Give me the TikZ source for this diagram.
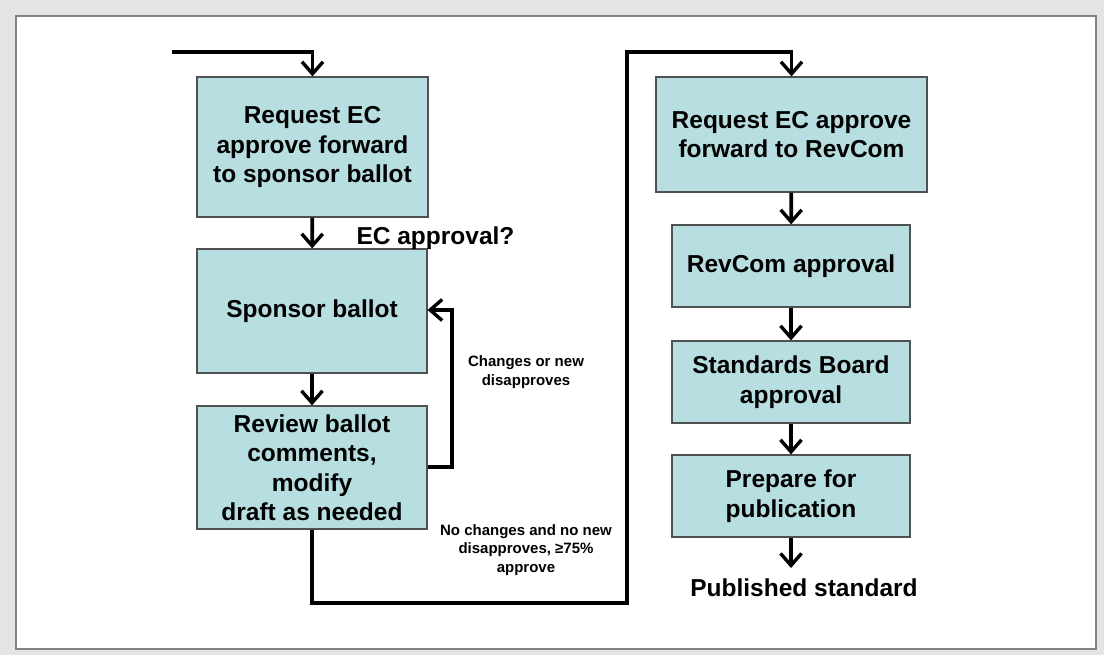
\documentclass[tikz,border=0pt]{standalone}
\usepackage{fontspec}
\setmainfont{Liberation Sans}
\usetikzlibrary{arrows.meta}
\definecolor{boxfill}{RGB}{183,222,224}
\definecolor{boxline}{RGB}{80,80,80}
\definecolor{pagebg}{RGB}{229,229,229}
\definecolor{frameline}{RGB}{130,130,130}
\tikzset{
  stepbox/.style={draw=boxline, line width=1.2pt, fill=boxfill, align=center,
    font=\fontsize{24.5}{29.5}\selectfont\bfseries, inner sep=0pt},
  flow/.style={line width=3.8pt, line join=miter, -{Straight Barb[length=12pt,width=21pt,line width=3.4pt]}},
  note/.style={align=center, font=\fontsize{15}{18.5}\selectfont\bfseries},
  bignote/.style={font=\fontsize{24.5}{29.5}\selectfont\bfseries}
}
\begin{document}
\begin{tikzpicture}[x=1pt,y=-1pt]
  % page background and frame
  \fill[pagebg] (0,0) rectangle (1104,655);
  \draw[frameline, line width=2pt, fill=white] (16,16) rectangle (1096,649);
  \useasboundingbox (0,0) rectangle (1104,655);

  % left column
  \node[stepbox, minimum width=231pt, minimum height=140pt] (req) at (312.5,147)
    {Request EC\\approve forward\\to sponsor ballot};
  \node[stepbox, minimum width=230pt, minimum height=124pt] (ballot) at (312,311)
    {Sponsor ballot};
  \node[stepbox, minimum width=230pt, minimum height=123pt] (review) at (312,467.5)
    {Review ballot\\comments,\\modify\\draft as needed};

  % right column
  \node[stepbox, minimum width=271pt, minimum height=115pt] (fwd) at (791.5,134.5)
    {Request EC approve\\forward to RevCom};
  \node[stepbox, minimum width=238pt, minimum height=82pt] (revcom) at (791,266)
    {RevCom approval};
  \node[stepbox, minimum width=238pt, minimum height=82pt] (sb) at (791,382)
    {Standards Board\\approval};
  \node[stepbox, minimum width=238pt, minimum height=82pt] (prep) at (791,496)
    {Prepare for\\publication};
  \node[bignote] (pub) at (804,588) {Published standard};

  % labels
  \node[bignote, anchor=west] (ecq) at (353,238) {EC approval?};
  \node[note] (chg) at (526,372) {Changes or new\\disapproves};
  \node[note] (pass) at (526,550) {No changes and no new\\disapproves, ≥75\%\\approve};

  % routing points
  \coordinate (start) at (172,52);
  \coordinate (loop) at (452,310);
  \coordinate (low) at (312,603);
  \coordinate (up) at (627,52);
  \coordinate (end) at (791,568);

  % connectors
  \draw[flow] (start) -| (req.north);
  \draw[flow] (req) -- (ballot);
  \draw[flow] (ballot) -- (review);
  \draw[flow] (review.east |- 0,467) -| (loop) -- (ballot.east |- loop);
  \draw[flow] (review.south) |- (low -| up) -- (up) -| (fwd.north);
  \draw[flow] (fwd) -- (revcom);
  \draw[flow] (revcom) -- (sb);
  \draw[flow] (sb) -- (prep);
  \draw[flow] (prep.south) -- (end);
\end{tikzpicture}
\end{document}
